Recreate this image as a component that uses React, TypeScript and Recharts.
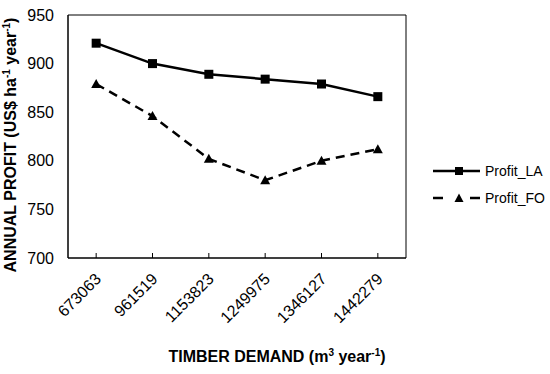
import { LineChart, Line, XAxis, YAxis, ReferenceArea, Label } from 'recharts';

const demand = ['673063', '961519', '1153823', '1249975', '1346127', '1442279'];
const profitLA = [921, 900, 889, 884, 879, 866];
const profitFO = [879, 846, 802, 780, 800, 812];
const yTicks = [700, 750, 800, 850, 900, 950];

const data = demand.map((d, i) => ({ demand: d, Profit_LA: profitLA[i], Profit_FO: profitFO[i] }));

const FONT = '"Liberation Sans", Arial, sans-serif';

const Square = (p: any) => {
  if (p.cx == null || p.cy == null) return null;
  return <rect key={p.key} x={p.cx - 4.5} y={p.cy - 4.5} width={9} height={9} fill="#000" />;
};

const Triangle = (p: any) => {
  if (p.cx == null || p.cy == null) return null;
  const { cx, cy } = p;
  return <polygon key={p.key} points={`${cx},${cy - 5} ${cx + 5},${cy + 4} ${cx - 5},${cy + 4}`} fill="#000" />;
};

const XTick = (p: any) => {
  const { x, y, payload } = p;
  const tx = x + 6;
  const ty = y + 22;
  return (
    <g>
      <line x1={x} y1={y} x2={x} y2={y - 5} stroke="#000" strokeWidth={1} />
      <text
        x={tx}
        y={ty}
        transform={`rotate(-45 ${tx} ${ty})`}
        textAnchor="end"
        fontSize={16}
        fontFamily={FONT}
        fill="#000"
      >
        {payload.value}
      </text>
    </g>
  );
};

const YTitle = () => (
  <text
    x={16}
    y={145}
    transform="rotate(-90 16 145)"
    textAnchor="middle"
    fontSize={16}
    fontWeight="bold"
    fontFamily={FONT}
    fill="#000"
  >
    ANNUAL PROFIT (US$ ha<tspan dy={-6} fontSize={10}>-1</tspan>
    <tspan dy={6}> year</tspan>
    <tspan dy={-6} fontSize={10}>-1</tspan>
    <tspan dy={6}>)</tspan>
  </text>
);

const XTitle = () => (
  <text x={277} y={362} textAnchor="middle" fontSize={16} fontWeight="bold" fontFamily={FONT} fill="#000">
    TIMBER DEMAND (m<tspan dy={-6} fontSize={10}>3</tspan>
    <tspan dy={6}> year</tspan>
    <tspan dy={-6} fontSize={10}>-1</tspan>
    <tspan dy={6}>)</tspan>
  </text>
);

const LegendBox = () => (
  <div style={{ position: 'absolute', left: 433, top: 157, fontFamily: FONT, fontSize: 14, color: '#000' }}>
    <div style={{ display: 'flex', alignItems: 'center', height: 27 }}>
      <svg width={48} height={12}>
        <line x1={0} y1={6} x2={47} y2={6} stroke="#000" strokeWidth={2.5} />
        <rect x={22} y={2} width={8} height={8} fill="#000" />
      </svg>
      <span style={{ marginLeft: 4 }}>Profit_LA</span>
    </div>
    <div style={{ display: 'flex', alignItems: 'center', height: 27 }}>
      <svg width={48} height={12}>
        <line x1={0} y1={6} x2={10} y2={6} stroke="#000" strokeWidth={2.5} />
        <line x1={37} y1={6} x2={47} y2={6} stroke="#000" strokeWidth={2.5} />
        <polygon points="26,1.5 30.5,10 21.5,10" fill="#000" />
      </svg>
      <span style={{ marginLeft: 4 }}>Profit_FO</span>
    </div>
  </div>
);

export default function App() {
  return (
    <div style={{ position: 'absolute', left: 0, top: 0, width: 550, height: 374, background: '#fff' }}>
      <LineChart width={550} height={374} data={data} margin={{ top: 15, right: 144, bottom: 86, left: 8 }}>
        <XAxis
          dataKey="demand"
          scale="band"
          tick={<XTick />}
          tickLine={false}
          tickSize={0}
          tickMargin={0}
          interval={0}
          axisLine={{ stroke: '#000' }}
        >
          <Label content={<XTitle />} />
        </XAxis>
        <YAxis
          domain={[700, 950]}
          ticks={yTicks}
          width={60}
          tickLine={false}
          tickSize={0}
          tickMargin={14}
          axisLine={{ stroke: '#000' }}
          tick={{ fill: '#000', fontSize: 16, fontFamily: FONT }}
        >
          <Label content={<YTitle />} />
        </YAxis>
        <ReferenceArea y1={700} y2={950} fill="none" stroke="#000" strokeWidth={1} ifOverflow="visible" />
        <Line
          dataKey="Profit_LA"
          stroke="#000"
          strokeWidth={2.5}
          dot={<Square />}
          activeDot={false}
          isAnimationActive={false}
        />
        <Line
          dataKey="Profit_FO"
          stroke="#000"
          strokeWidth={2.5}
          strokeDasharray="9 6"
          dot={<Triangle />}
          activeDot={false}
          isAnimationActive={false}
        />
      </LineChart>
      <LegendBox />
    </div>
  );
}
